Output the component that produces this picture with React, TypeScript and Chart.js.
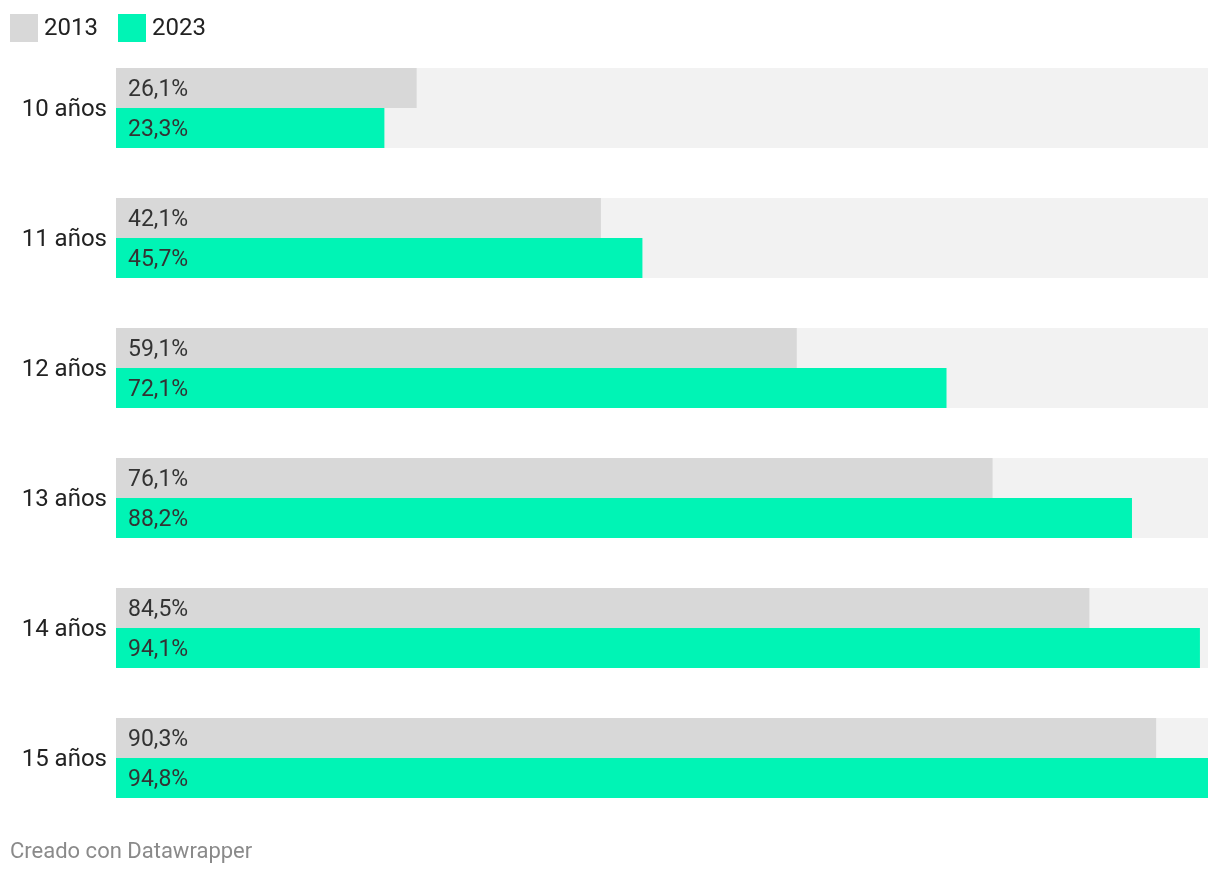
import React, { useEffect, useRef } from "react";
import { Chart, registerables } from "chart.js";

Chart.register(...registerables);

const categories = ["10 años", "11 años", "12 años", "13 años", "14 años", "15 años"];
const seriesNames = ["2013", "2023"];
const values2013 = [26.1, 42.1, 59.1, 76.1, 84.5, 90.3];
const values2023 = [23.3, 45.7, 72.1, 88.2, 94.1, 94.8];
const colors = ["#d8d8d8", "#00f4b5"];
const trackColor = "#f2f2f2";

const maxValue = Math.max(...values2013, ...values2023);
const trackValues = categories.map(() => maxValue);

const fmt = (v: number) => v.toFixed(1).replace(".", ",") + "%";

const valueLabels = {
  id: "valueLabels",
  afterDatasetsDraw(chart: any) {
    const ctx = chart.ctx;
    ctx.save();
    ctx.font = "23px Roboto";
    ctx.fillStyle = "#333333";
    ctx.textAlign = "left";
    ctx.textBaseline = "middle";
    [0, 1].forEach((di) => {
      const meta = chart.getDatasetMeta(di);
      const data = chart.data.datasets[di].data as number[];
      meta.data.forEach((el: any, i: number) => {
        ctx.fillText(fmt(data[i]), el.base + 12, el.y + 2);
      });
    });
    ctx.restore();
  },
};

export default function App() {
  const ref = useRef<HTMLCanvasElement | null>(null);
  useEffect(() => {
    if (!ref.current) return;
    const chart = new Chart(ref.current, {
      type: "bar",
      data: {
        labels: categories,
        datasets: [
          { label: seriesNames[0], data: values2013, backgroundColor: colors[0], order: 0 },
          { label: seriesNames[1], data: values2023, backgroundColor: colors[1], order: 0 },
          { label: "track", data: trackValues, backgroundColor: trackColor, order: 1, grouped: false } as any,
        ],
      },
      options: {
        indexAxis: "y",
        animation: false,
        responsive: false,
        maintainAspectRatio: false,
        datasets: { bar: { categoryPercentage: 80 / 130, barPercentage: 1, borderWidth: 0 } },
        layout: { padding: { left: 0, right: 12, top: 43, bottom: 53 } },
        plugins: { legend: { display: false }, tooltip: { enabled: false } },
        scales: {
          x: { display: false, min: 0, max: maxValue },
          y: {
            grid: { display: false, drawTicks: false },
            border: { display: false },
            ticks: { font: { family: "Roboto", size: 24 }, color: "#222222", padding: 9, labelOffset: 2 },
            afterFit: (s: any) => {
              s.width = 116;
            },
          },
        },
      },
      plugins: [valueLabels],
    });
    return () => chart.destroy();
  }, []);

  const legendItem = (name: string, color: string, left: number) => (
    <div key={name} style={{ position: "absolute", left, top: 14, height: 28, display: "flex", alignItems: "center" }}>
      <div style={{ width: 28, height: 28, background: color }} />
      <span style={{ marginLeft: 6, fontSize: 24, color: "#222", lineHeight: "28px", position: "relative", top: -1 }}>{name}</span>
    </div>
  );

  return (
    <div style={{ position: "absolute", left: 0, top: 0, width: 1220, height: 876, background: "#fff", fontFamily: "Roboto", overflow: "hidden" }}>
      <canvas ref={ref} width={1220} height={876} style={{ position: "absolute", left: 0, top: 0, width: 1220, height: 876 }} />
      {legendItem(seriesNames[0], colors[0], 10)}
      {legendItem(seriesNames[1], colors[1], 118)}
      <div style={{ position: "absolute", left: 10, top: 837, fontSize: 22, color: "#8a8a8a", lineHeight: "28px" }}>Creado con Datawrapper</div>
    </div>
  );
}
